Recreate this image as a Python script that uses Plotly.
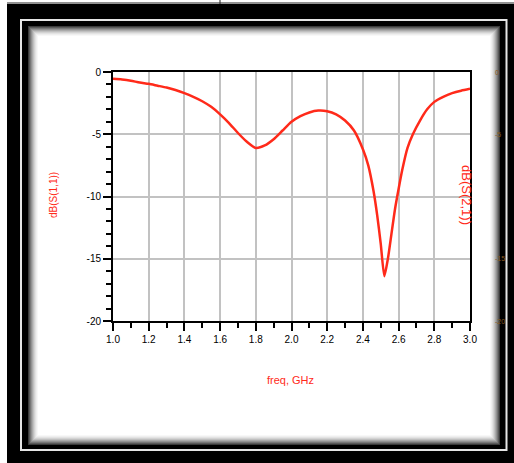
import plotly.graph_objects as go

# ---- data ----
freq_ghz = [1.00, 1.05, 1.10, 1.15, 1.20, 1.25, 1.30, 1.35, 1.40, 1.45, 1.50, 1.55,
            1.60, 1.65, 1.70, 1.75, 1.80, 1.85, 1.90, 1.95, 2.00, 2.05, 2.10, 2.15,
            2.20, 2.25, 2.30, 2.35, 2.40, 2.43, 2.46, 2.48, 2.50, 2.52, 2.54, 2.56,
            2.58, 2.60, 2.62, 2.65, 2.68, 2.72, 2.76, 2.80, 2.85, 2.90, 2.95, 3.00]
s11_db = [-0.55, -0.60, -0.70, -0.85, -0.95, -1.10, -1.25, -1.45, -1.70, -2.00, -2.35, -2.80,
          -3.40, -4.10, -4.90, -5.60, -6.10, -5.90, -5.40, -4.70, -4.00, -3.55, -3.25, -3.10,
          -3.15, -3.40, -3.90, -4.70, -6.20, -7.50, -9.60, -11.50, -13.80, -16.40, -15.00, -13.00,
          -11.00, -9.40, -7.90, -6.10, -5.00, -3.90, -3.00, -2.40, -2.00, -1.70, -1.50, -1.35]
x_ticks = [1.0, 1.2, 1.4, 1.6, 1.8, 2.0, 2.2, 2.4, 2.6, 2.8, 3.0]
x_tick_text = ["1.0", "1.2", "1.4", "1.6", "1.8", "2.0", "2.2", "2.4", "2.6", "2.8", "3.0"]
y_ticks = [0, -5, -10, -15, -20]
y_tick_text = ["0", "-5", "-10", "-15", "-20"]
right_tick_text = ["0", "-5", "-15", "-20"]
right_tick_vals = [0, -5, -15, -20]

W, H = 514, 463
L, R, T, B = 113, 470, 72, 321
PW, PH = R - L, B - T


def px(x):
    return (x - L) / PW


def py(y):
    return (B - y) / PH


RED = "#ff2a1a"

fig = go.Figure()
fig.add_trace(go.Scatter(x=freq_ghz, y=s11_db, mode="lines",
                         line=dict(color=RED, width=2.5, shape="spline", smoothing=0.6),
                         hoverinfo="skip", showlegend=False))

shapes = []
# white page strips top/left
shapes.append(dict(type="rect", xref="paper", yref="paper", x0=px(0), x1=px(W), y0=py(0), y1=py(4),
                   fillcolor="white", line=dict(width=0), layer="below"))
shapes.append(dict(type="rect", xref="paper", yref="paper", x0=px(0), x1=px(7), y0=py(0), y1=py(H),
                   fillcolor="white", line=dict(width=0), layer="below"))
shapes.append(dict(type="line", xref="paper", yref="paper", x0=px(7), x1=px(W), y0=py(3), y1=py(3),
                   line=dict(color="#222", width=1), layer="below"))
shapes.append(dict(type="line", xref="paper", yref="paper", x0=px(220), x1=px(220), y0=py(0), y1=py(4),
                   line=dict(color="#222", width=1), layer="below"))
# outer double border white line
shapes.append(dict(type="rect", xref="paper", yref="paper", x0=px(21), x1=px(506.5), y0=py(20), y1=py(450),
                   fillcolor="rgba(0,0,0,0)", line=dict(color="#e6e6e6", width=2), layer="below"))
# panel with inner shadow gradient
grays = ["#3a3a3a", "#5a5a5a", "#777", "#929292", "#aaa", "#c0c0c0", "#d3d3d3", "#e3e3e3", "#efefef", "#f8f8f8", "#ffffff"]
for i, g in enumerate(grays):
    shapes.append(dict(type="rect", xref="paper", yref="paper",
                       x0=px(28 + i), x1=px(500 - i), y0=py(26 + i), y1=py(445 - i),
                       fillcolor=g, line=dict(width=0), layer="below"))

annotations = []
annotations.append(dict(x=px(53), y=py(195), xref="paper", yref="paper", text="dB(S(1,1))",
                        xanchor="center", yanchor="middle",
                        textangle=-90, showarrow=False, font=dict(family="Liberation Sans", size=10, color=RED)))
annotations.append(dict(x=px(467), y=py(195), xref="paper", yref="paper", text="dB(S(2,1))",
                        xanchor="center", yanchor="middle",
                        textangle=90, showarrow=False, font=dict(family="Liberation Sans", size=13, color=RED)))
annotations.append(dict(x=px(290), y=py(380), xref="paper", yref="paper", text="freq, GHz",
                        xanchor="center", yanchor="middle",
                        showarrow=False, font=dict(family="Liberation Sans", size=11, color=RED)))
for v, t in zip(right_tick_vals, right_tick_text):
    annotations.append(dict(x=px(493), y=py(T + (-v) * PH / 20), xref="paper", yref="paper", text=t,
                            xanchor="left", yanchor="middle", showarrow=False,
                            font=dict(family="Liberation Sans", size=7, color="#8a5a20")))

axis_common = dict(showline=True, linecolor="black", linewidth=2, mirror=True,
                   showgrid=True, gridcolor="#c2c2c2", gridwidth=1.5, zeroline=False,
                   ticks="outside", tickcolor="black", tickwidth=2, ticklen=8,
                   tickfont=dict(family="Liberation Sans", size=10, color="black"))

fig.update_layout(
    width=W, height=H,
    margin=dict(l=L, r=W - R, t=T, b=H - B, pad=0),
    paper_bgcolor="black", plot_bgcolor="white",
    xaxis=dict(range=[1, 3], tickvals=x_ticks, ticktext=x_tick_text,
               minor=dict(dtick=0.1, tick0=1.0, ticks="outside", ticklen=5, tickwidth=2,
                          tickcolor="black", showgrid=False),
               **axis_common),
    yaxis=dict(range=[-20, 0], tickvals=y_ticks, ticktext=y_tick_text,
               minor=dict(dtick=1, tick0=0, ticks="outside", ticklen=5, tickwidth=2,
                          tickcolor="black", showgrid=False),
               **axis_common),
    shapes=shapes, annotations=annotations,
)

fig.write_html("out.html")
